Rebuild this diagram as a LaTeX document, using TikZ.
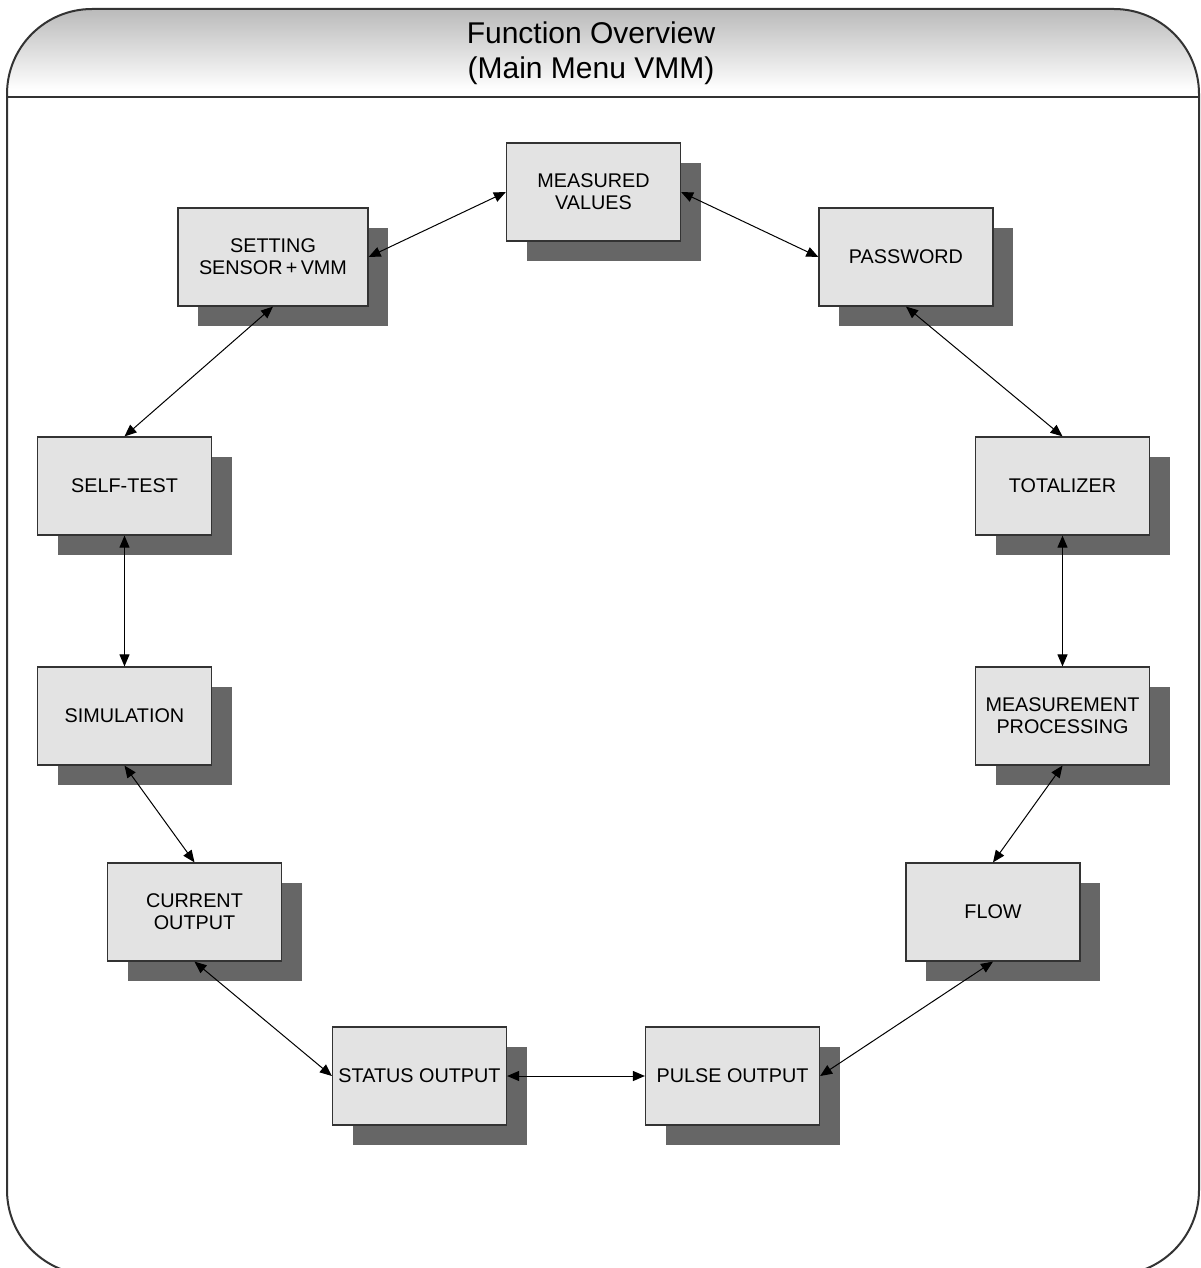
\documentclass[tikz,border=0pt]{standalone}
\usepackage{fontspec}
\setmainfont{Liberation Sans}
\usetikzlibrary{arrows.meta,shadows}
\definecolor{boxfill}{HTML}{E3E3E3}
\definecolor{shadowgray}{HTML}{666666}
\definecolor{framegray}{HTML}{333333}
\tikzset{
  menubox/.style={draw=framegray, line width=1.2pt, fill=boxfill,
    minimum width=174pt, minimum height=98pt, inner sep=0pt, align=center,
    font=\fontsize{19.8pt}{22pt}\selectfont,
    general shadow={fill=shadowgray, shadow xshift=20pt, shadow yshift=-20pt}},
  link/.style={line width=1pt, black, {Triangle[length=12pt,width=10pt]}-{Triangle[length=12pt,width=10pt]}}
}
\begin{document}
\begin{tikzpicture}[x=1pt,y=-1pt]
\useasboundingbox (0,0) rectangle (1200,1268);
\fill[white] (0,0) rectangle (1200,1268);
% header shading
\begin{scope}
  \clip[rounded corners=85pt] (7,9) rectangle (1199,1275);
  \shade[top color=black!27, bottom color=white] (7,9) rectangle (1199,90);
  \fill[white] (7,90) rectangle (1199,97);
\end{scope}
\draw[framegray, line width=2pt, rounded corners=85pt] (7,9) rectangle (1199,1275);
\draw[framegray, line width=2pt] (7,97) -- (1199,97);
\node[align=center, font=\fontsize{30pt}{35pt}\selectfont] (title) at (591,53) {Function Overview\\(Main Menu VMM)};

% boxes
\node[menubox] (mv) at (593.5,192) {MEASURED\\VALUES};
\node[menubox, minimum width=190pt] (set) at (273,257) {SETTING\\SENSOR\,+\,VMM};
\node[menubox] (pw) at (906,257) {PASSWORD};
\node[menubox] (st) at (124.5,486) {SELF-TEST};
\node[menubox] (tot) at (1062.5,486) {TOTALIZER};
\node[menubox] (sim) at (124.5,716) {SIMULATION};
\node[menubox] (mp) at (1062.5,716) {MEASUREMENT\\PROCESSING};
\node[menubox] (cur) at (194.5,912) {CURRENT\\OUTPUT};
\node[menubox] (flow) at (993,912) {FLOW};
\node[menubox] (stat) at (419.5,1076) {STATUS OUTPUT};
\node[menubox] (pulse) at (732.5,1076) {PULSE OUTPUT};

% connectors
\draw[link] (set.east) -- (mv.west);
\draw[link] (mv.east) -- (pw.west);
\draw[link] (pw.south) -- (tot.north);
\draw[link] (tot.south) -- (mp.north);
\draw[link] (mp.south) -- (flow.north);
\draw[link] (flow.south) -- (pulse.east);
\draw[link] (pulse.west) -- (stat.east);
\draw[link] (stat.west) -- (cur.south);
\draw[link] (cur.north) -- (sim.south);
\draw[link] (sim.north) -- (st.south);
\draw[link] (st.north) -- (set.south);
\end{tikzpicture}
\end{document}
